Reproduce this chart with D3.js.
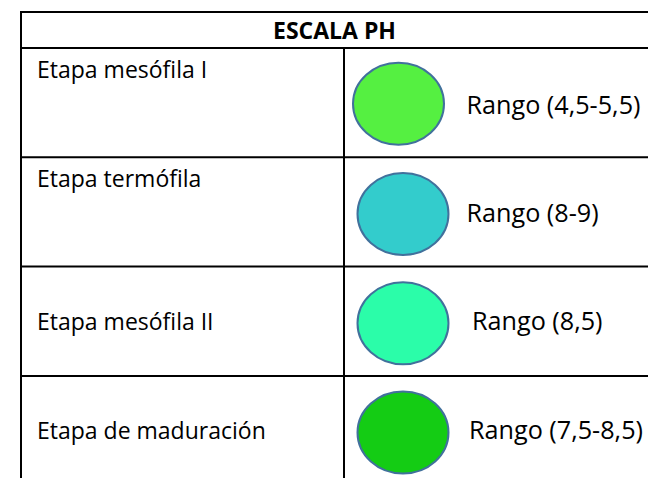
<!DOCTYPE html>
<html>
<head>
<meta charset="utf-8">
<script src="https://cdn.jsdelivr.net/npm/d3@7"></script>
<style>
  html, body { margin: 0; padding: 0; background: #fff; }
  svg { display: block; }
  text { font-family: "Open Sans", Lato, sans-serif; fill: #000; }
</style>
</head>
<body>
<svg id="chart" width="648" height="478"></svg>
<script>
const title = "ESCALA PH";
const stages = ["Etapa mesófila I", "Etapa termófila", "Etapa mesófila II", "Etapa de maduración"];
const ranges = ["Rango (4,5-5,5)", "Rango (8-9)", "Rango (8,5)", "Rango (7,5-8,5)"];
const colors = ["#55F041", "#33CCCC", "#2BFDA9", "#14CC14"];

(function () {
const W = 648, H = 478;
const svg = d3.select("#chart");

const tLeft = 21, tRight = 660, tTop = 12, headerBottom = 48, colX = 344;
const rowH = 109.3;
const fs = 23, fsR = 25.2;

const y = d3.scaleBand()
  .domain(stages)
  .range([headerBottom, headerBottom + rowH * stages.length])
  .paddingInner(0).paddingOuter(0);

const lineColor = "#000";
const lw = 2;

const hLines = [tTop, headerBottom].concat(stages.slice(1).map(s => y(s)));
svg.selectAll("line.h").data(hLines).join("line")
  .attr("class", "h")
  .attr("x1", tLeft).attr("x2", tRight)
  .attr("y1", d => d).attr("y2", d => d)
  .attr("stroke", lineColor).attr("stroke-width", lw);

svg.append("line").attr("x1", tLeft).attr("x2", tLeft).attr("y1", tTop - 1).attr("y2", H)
  .attr("stroke", lineColor).attr("stroke-width", lw);
svg.append("line").attr("x1", colX).attr("x2", colX).attr("y1", headerBottom).attr("y2", H)
  .attr("stroke", lineColor).attr("stroke-width", lw);

svg.append("text")
  .attr("x", 334.5).attr("y", 38.5)
  .attr("text-anchor", "middle")
  .attr("font-size", fs).attr("font-weight", "bold")
  .text(title);

const rows = stages.map((s, i) => ({ stage: s, range: ranges[i], color: colors[i], i }));

svg.selectAll("text.stage").data(rows).join("text")
  .attr("class", "stage")
  .attr("x", 37)
  .attr("y", d => d.i < 2 ? y(d.stage) + 30 : y(d.stage) + y.bandwidth() / 2 + 8.5)
  .attr("font-size", fs)
  .text(d => d.stage);

svg.selectAll("ellipse.dot").data(rows).join("ellipse")
  .attr("class", "dot")
  .attr("cx", d => d.i === 0 ? 398.5 : 403)
  .attr("cy", d => y(d.stage) + y.bandwidth() / 2 + (d.i === 0 ? 1 : 2))
  .attr("rx", 45.5).attr("ry", 41)
  .attr("fill", d => d.color)
  .attr("stroke", "#41719C").attr("stroke-width", 2);

svg.selectAll("text.range").data(rows).join("text")
  .attr("class", "range")
  .attr("x", d => d.i === 2 ? 472 : (d.i === 3 ? 469 : 466.5))
  .attr("y", d => y(d.stage) + y.bandwidth() / 2 + (d.i === 0 ? 11.5 : (d.i === 1 ? 10 : 8.5)))
  .attr("font-size", fsR)
  .text(d => d.range);
})();
</script>
</body>
</html>
